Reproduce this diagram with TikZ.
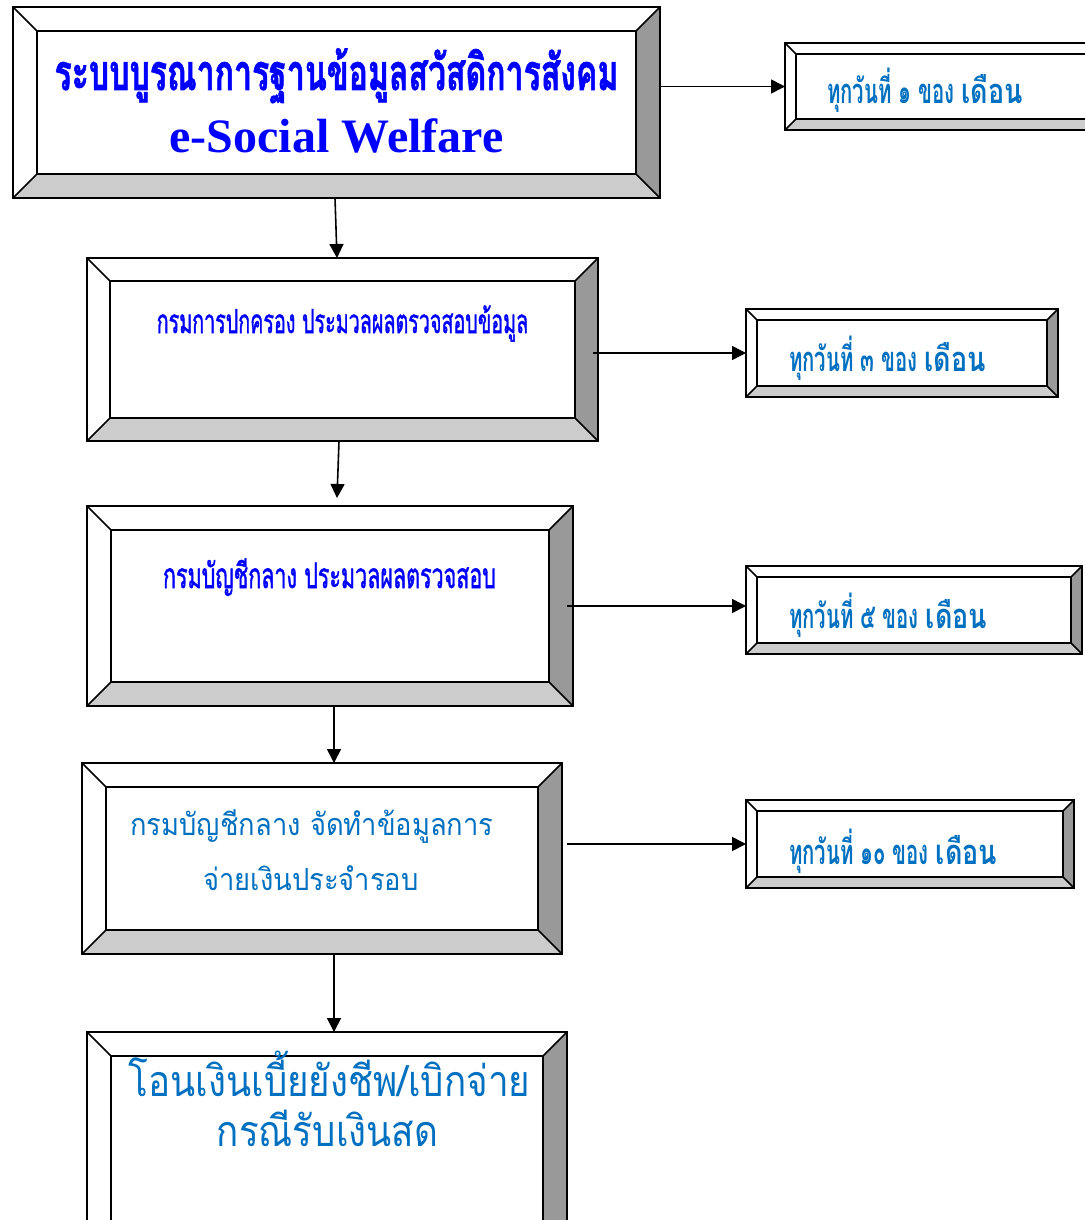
\documentclass[tikz,border=0pt]{standalone}
\usepackage{fontspec}
\usepackage{graphicx}
\usetikzlibrary{arrows.meta,calc}
\setmainfont{Liberation Serif}
\newfontfamily\thai[Script=Thai]{Loma}
\newfontfamily\thaiheavy[Script=Thai,FakeBold=1.6]{Loma}
\definecolor{tblue}{HTML}{0000FF}
\definecolor{lblue}{HTML}{0070C0}
\definecolor{bevR}{HTML}{999999}
\definecolor{bevB}{HTML}{CCCCCC}
\tikzset{
  edgeline/.style={line width=2.4pt, line join=miter},
  diagline/.style={line width=1.5pt},
  arr/.style={line width=1.6pt, -{Triangle[length=14pt,width=14pt]}},
  lbl/.style={inner sep=0pt, anchor=base},
  lblw/.style={inner sep=0pt, anchor=base west},
}
% #1 name, #2 x1, #3 y1, #4 x2, #5 y2, #6 bevel
\newcommand\bevelbox[6]{%
  \fill[white] (#2,#3) rectangle (#4,#5);
  \fill[bevR] (#4,#3) -- (#4,#5) -- (#4-#6,#5-#6) -- (#4-#6,#3+#6) -- cycle;
  \fill[bevB] (#2,#5) -- (#4,#5) -- (#4-#6,#5-#6) -- (#2+#6,#5-#6) -- cycle;
  \draw[diagline] (#2,#3) -- (#2+#6,#3+#6) (#4,#3) -- (#4-#6,#3+#6)
                  (#4,#5) -- (#4-#6,#5-#6) (#2,#5) -- (#2+#6,#5-#6);
  \draw[edgeline] (#2+#6,#3+#6) rectangle (#4-#6,#5-#6);
  \draw[edgeline] (#2,#3) rectangle (#4,#5);
  \node[inner sep=0pt, outer sep=0pt, anchor=north west,
        minimum width={(#4-#2)*1pt}, minimum height={(#5-#3)*1pt}] (#1) at (#2,#3) {};
}
\newcommand\cond[2]{\scalebox{#1}[1]{#2}}
% date label: #1 first part
\newcommand\datelbl[1]{%
  \cond{0.59}{\fontsize{34.5}{40}\thai\bfseries #1}\hspace{7pt}%
  \cond{0.78}{\fontsize{34.5}{40}\thai\bfseries เดือน}}
\begin{document}
\begin{tikzpicture}[x=1pt,y=-1pt]
\useasboundingbox (0,0) rectangle (1084,1220);
\fill[white] (0,0) rectangle (1084,1220);

% main column
\bevelbox{b1}{13}{7}{660}{198}{24}
\bevelbox{b2}{87}{258}{598}{441}{23}
\bevelbox{b3}{87}{506}{573}{706}{24}
\bevelbox{b4}{82}{763}{562}{954}{24}
\bevelbox{b5}{87}{1032}{567}{1245}{24}
% right column
\bevelbox{r1}{785}{43}{1100}{130}{11}
\bevelbox{r2}{746}{309}{1058}{397}{11}
\bevelbox{r3}{746}{566}{1082}{654}{11}
\bevelbox{r4}{746}{800}{1074}{888}{11}

% texts
\node[lbl, text=tblue] (t1a) at (336.5,90)
  {\cond{0.64}{\fontsize{50}{60}\thaiheavy\bfseries ระบบบูรณาการฐานข้อมูลสวัสดิการสังคม}};
\node[lbl, text=tblue] (t1b) at (336.5,153)
  {\fontsize{48}{56}\selectfont\bfseries e-Social Welfare};
\node[lbl, text=tblue] (t2) at (342.5,333)
  {\cond{0.597}{\fontsize{33}{40}\thaiheavy กรมการปกครอง ประมวลผลตรวจสอบข้อมูล}};
\node[lbl, text=tblue] (t3) at (329.5,588)
  {\cond{0.614}{\fontsize{35}{42}\thaiheavy กรมบัญชีกลาง ประมวลผลตรวจสอบ}};
\node[lbl, text=lblue] (t4a) at (312,835)
  {\cond{0.896}{\fontsize{30.5}{36}\thai กรมบัญชีกลาง จัดทำข้อมูลการ}};
\node[lbl, text=lblue] (t4b) at (311,890)
  {\cond{0.896}{\fontsize{30.5}{36}\thai จ่ายเงินประจำรอบ}};
\node[lbl, text=lblue] (t5a) at (329.5,1096)
  {\cond{0.855}{\fontsize{43}{50}\thai โอนเงินเบี้ยยังชีพ/เบิกจ่าย}};
\node[lbl, text=lblue] (t5b) at (327.5,1146)
  {\cond{0.855}{\fontsize{43}{50}\thai กรณีรับเงินสด}};

\node[lblw, text=lblue] (s1) at (827,104) {\datelbl{ทุกวันที่ ๑ ของ}};
\node[lblw, text=lblue] (s2) at (789,371) {\datelbl{ทุกวันที่ ๓ ของ}};
\node[lblw, text=lblue] (s3) at (789,628) {\datelbl{ทุกวันที่ ๕ ของ}};
\node[lblw, text=lblue] (s4) at (789,864) {\datelbl{ทุกวันที่ ๑๐ ของ}};

% vertical connectors
\draw[arr] ($(b1.south west)+(322,0)$) -- ($(b2.north west)+(250,0)$);
\draw[arr] ($(b2.south west)+(252,0)$) -- ($(b3.north west)+(250,-8)$);
\draw[arr] ($(b3.south west)+(247,0)$) -- ($(b4.north west)+(252,0)$);
\draw[arr] ($(b4.south west)+(252,0)$) -- ($(b5.north west)+(247,0)$);
% horizontal connectors
\draw[arr] (b1.east |- r1.west) -- (r1.west);
\draw[arr] ($(b2.east |- r2.west)+(-5,0)$) -- (r2.west);
\draw[arr] ($(b3.east |- r3.west)+(-6,-4)$) -- ($(r3.west)+(0,-4)$);
\draw[arr] ($(b4.east |- r4.west)+(5,0)$) -- (r4.west);
\end{tikzpicture}
\end{document}
